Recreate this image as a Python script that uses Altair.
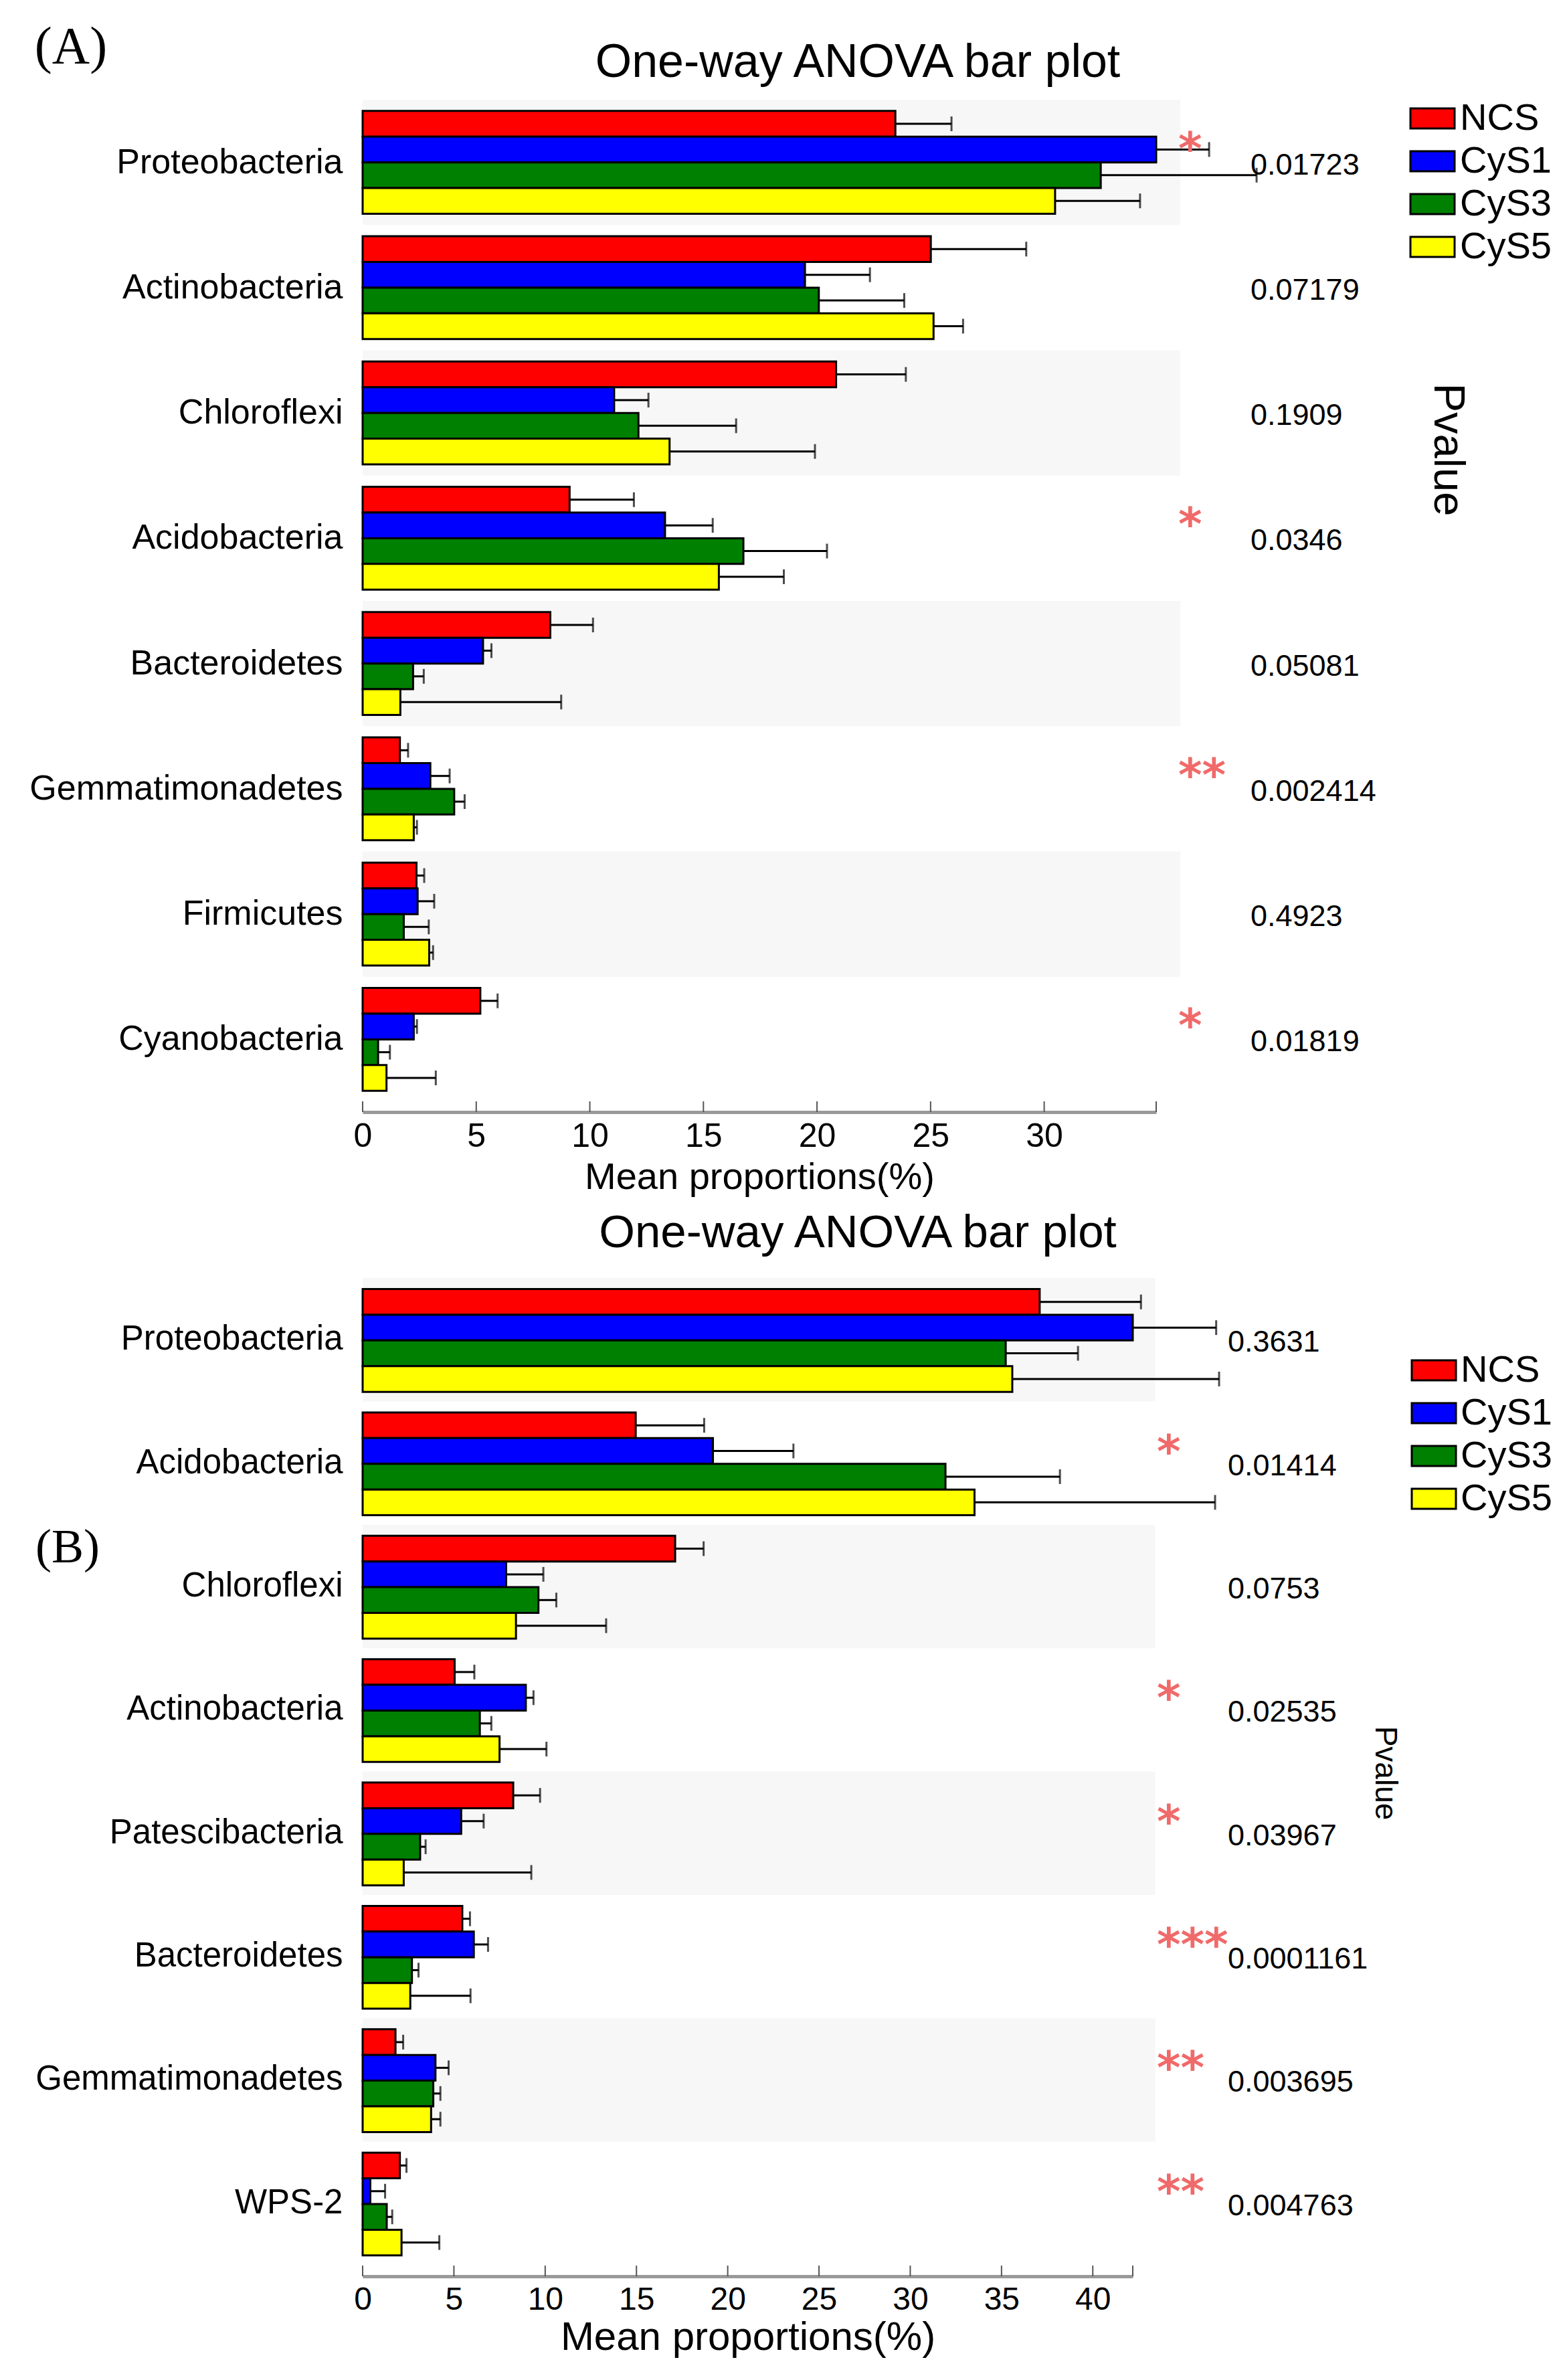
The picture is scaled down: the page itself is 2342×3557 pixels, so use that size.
import altair as alt
import pandas as pd

GROUPS = ["NCS", "CyS1", "CyS3", "CyS5"]
COLORS = ["#ff0000", "#0000ff", "#008000", "#ffff00"]

# ---------------- Panel A ----------------
A_PHYLA = ["Proteobacteria", "Actinobacteria", "Chloroflexi", "Acidobacteria",
           "Bacteroidetes", "Gemmatimonadetes", "Firmicutes", "Cyanobacteria"]
A_NCS = [23.45, 25.01, 20.84, 9.11, 8.26, 1.64, 2.37, 5.18]
A_CYS1 = [34.93, 19.47, 11.07, 13.31, 5.30, 2.98, 2.42, 2.25]
A_CYS3 = [32.49, 20.08, 12.14, 16.76, 2.22, 4.03, 1.81, 0.68]
A_CYS5 = [30.48, 25.13, 13.51, 15.68, 1.66, 2.25, 2.93, 1.05]
A_NCS_UP = [25.92, 29.21, 23.91, 11.94, 10.14, 2.00, 2.71, 5.94]
A_CYS1_UP = [37.26, 22.33, 12.58, 15.41, 5.67, 3.83, 3.15, 2.39]
A_CYS3_UP = [39.35, 23.84, 16.44, 20.44, 2.69, 4.49, 2.91, 1.20]
A_CYS5_UP = [34.22, 26.43, 19.91, 18.54, 8.74, 2.39, 3.10, 3.22]
A_PVALUES = ["0.01723", "0.07179", "0.1909", "0.0346", "0.05081", "0.002414", "0.4923", "0.01819"]
A_STARS = ["*", "", "", "*", "", "**", "", "*"]
A_TICKS = [0, 5, 10, 15, 20, 25, 30]
A_XMAX = 34.93
A_BAND_END = 36.0

# ---------------- Panel B ----------------
B_PHYLA = ["Proteobacteria", "Acidobacteria", "Chloroflexi", "Actinobacteria",
           "Patescibacteria", "Bacteroidetes", "Gemmatimonadetes", "WPS-2"]
B_NCS = [37.09, 14.96, 17.12, 5.04, 8.25, 5.46, 1.80, 2.04]
B_CYS1 = [42.19, 19.19, 7.86, 8.94, 5.40, 6.09, 3.99, 0.42]
B_CYS3 = [35.23, 31.93, 9.63, 6.42, 3.15, 2.70, 3.87, 1.32]
B_CYS5 = [35.59, 33.52, 8.40, 7.50, 2.25, 2.61, 3.75, 2.13]
B_NCS_UP = [42.64, 18.71, 18.68, 6.12, 9.72, 5.88, 2.22, 2.40]
B_CYS1_UP = [46.76, 23.60, 9.90, 9.36, 6.63, 6.87, 4.71, 1.23]
B_CYS3_UP = [39.19, 38.20, 10.61, 7.05, 3.45, 3.06, 4.26, 1.62]
B_CYS5_UP = [46.92, 46.70, 13.34, 10.07, 9.24, 5.91, 4.26, 4.20]
B_PVALUES = ["0.3631", "0.01414", "0.0753", "0.02535", "0.03967", "0.0001161", "0.003695", "0.004763"]
B_STARS = ["", "*", "", "*", "*", "***", "**", "**"]
B_TICKS = [0, 5, 10, 15, 20, 25, 30, 35, 40]
B_XMAX = 42.19
B_BAND_END = 43.42

FONT = "Liberation Sans"


def panel(phyla, means, ups, pvals, stars, ticks, xmax, band_end, L):
    W, H = L["w"], L["h"]
    rows = []
    for gi, g in enumerate(GROUPS):
        for pi, p in enumerate(phyla):
            rows.append({"phylum": p, "group": g, "mean": means[gi][pi], "up": ups[gi][pi]})
    df = pd.DataFrame(rows)
    df_bands = pd.DataFrame({"phylum": phyla[0::2]})
    df_p = pd.DataFrame({"phylum": phyla, "p": pvals})
    df_s = pd.DataFrame({"phylum": [p for p, s in zip(phyla, stars) if s],
                         "s": [s for s in stars if s]})
    df_t = pd.DataFrame({"v": ticks + [xmax]})

    xscale = alt.Scale(domain=[0, xmax], nice=False, zero=True)
    xaxis = alt.Axis(values=ticks, title="Mean proportions(%)", grid=False,
                     titleFont=FONT, titleFontSize=L["xt_fs"], titleFontWeight="normal",
                     titleColor="black", titleBaseline="alphabetic", titleY=L["xt_y"],
                     titleX=W / 2, labelFont=FONT, labelFontSize=L["xl_fs"],
                     labelBaseline="alphabetic", labelPadding=L["xl_pad"], labelColor="black",
                     labelFlush=False, labelOverlap=False, domainColor="#999999",
                     domainWidth=5, ticks=False, tickSize=0, offset=L["off"])
    yscale = alt.Scale(domain=phyla, paddingInner=0.18, paddingOuter=0.09)
    yaxis = alt.Axis(title=None, domain=False, ticks=False, grid=False, labelFont=FONT,
                     labelFontSize=L["yl_fs"], labelPadding=30, labelLimit=2000,
                     labelColor="black")
    Y = alt.Y("phylum:N", scale=yscale, axis=yaxis)
    YO = alt.YOffset("group:N", scale=alt.Scale(domain=GROUPS, paddingInner=0, paddingOuter=0))

    def X(f):
        return alt.X(f, type="quantitative", scale=xscale, axis=xaxis)

    step = H / len(phyla)
    bands = alt.Chart(df_bands).mark_bar(color="#f7f7f7", height=step).encode(
        x=alt.XDatum(0, scale=xscale, axis=xaxis), x2=alt.X2Datum(band_end), y=Y)

    bars = alt.Chart(df).mark_bar(stroke="black", strokeWidth=3).encode(
        x=X("mean"), y=Y, yOffset=YO,
        color=alt.Color("group:N", scale=alt.Scale(domain=GROUPS, range=COLORS),
                        legend=alt.Legend(title=None, orient="none", legendX=L["lx"],
                                          legendY=L["ly"], padding=0,
                                          symbolType="M-2.2,-1H2.2V1H-2.2Z",
                                          symbolSize=900, symbolStrokeColor="black",
                                          symbolStrokeWidth=3, labelFont=FONT,
                                          labelFontSize=56, labelColor="black",
                                          labelLimit=1000, rowPadding=8,
                                          labelOffset=L["lo"])))

    err = alt.Chart(df).mark_rule(color="black", strokeWidth=3).encode(
        x=X("mean"), x2="up:Q", y=Y, yOffset=YO)
    caps = alt.Chart(df).mark_tick(color="black", thickness=3, size=22).encode(
        x=X("up"), y=Y, yOffset=YO)

    tick_rules = alt.Chart(df_t).mark_rule(color="#555555", strokeWidth=2).encode(
        x=X("v"), y=alt.value(H + L["off"] - 16), y2=alt.value(H + L["off"]))

    ptext = alt.Chart(df_p).mark_text(align="left", baseline="alphabetic", font=FONT,
                                      fontSize=45, color="black", dy=18).encode(
        x=alt.value(L["px"]), y=Y, text="p:N")
    stext = alt.Chart(df_s).mark_text(align="left", baseline="alphabetic", font="DejaVu Sans",
                                      fontSize=68, fontWeight="bold", color="#f06a6a",
                                      dy=L["sdy"]).encode(
        x=alt.value(L["sx"]), y=Y, text="s:N")

    title = alt.Chart(pd.DataFrame({"t": ["One-way ANOVA bar plot"]})).mark_text(
        align="center", baseline="alphabetic", font=FONT, fontSize=L["t_fs"], color="black").encode(
        x=alt.value(L["tx"]), y=alt.value(L["ty"]), text="t:N")
    tag = alt.Chart(pd.DataFrame({"t": [L["tag"]]})).mark_text(
        align="center", baseline="alphabetic", font="Liberation Serif", fontSize=L["tag_fs"],
        color="black").encode(x=alt.value(L["tagx"]), y=alt.value(L["tagy"]), text="t:N")
    pv = alt.Chart(pd.DataFrame({"t": ["Pvalue"]})).mark_text(
        align="center", baseline="middle", font=FONT, fontSize=L["pv_fs"], angle=90,
        color="black").encode(x=alt.value(L["pvx"]), y=alt.value(L["pvy"]), text="t:N")

    return alt.layer(bands, bars, err, caps, tick_rules, ptext, stext, title, tag, pv).properties(
        width=W, height=H)


LA = dict(w=1186, h=1498, off=15, xt_fs=56, xt_y=114, xl_fs=50, xl_pad=51, yl_fs=52,
          lx=1571, ly=0, lo=13, px=1327, sx=1219, sdy=3, t_fs=70, tx=740, ty=-34,
          tag="(A)", tag_fs=78, tagx=-436, tagy=-55, pv_fs=65, pvx=1622, pvy=523)
LB = dict(w=1151, h=1475, off=17, xt_fs=60, xt_y=109, xl_fs=48, xl_pad=49, yl_fs=51,
          lx=1573, ly=110, lo=12, px=1293, sx=1187, sdy=6, t_fs=69, tx=740, ty=-46,
          tag="(B)", tag_fs=72, tagx=-441, tagy=425, pv_fs=46, pvx=1528, pvy=740)

pa = panel(A_PHYLA, [A_NCS, A_CYS1, A_CYS3, A_CYS5],
           [A_NCS_UP, A_CYS1_UP, A_CYS3_UP, A_CYS5_UP],
           A_PVALUES, A_STARS, A_TICKS, A_XMAX, A_BAND_END, LA)
pb = panel(B_PHYLA, [B_NCS, B_CYS1, B_CYS3, B_CYS5],
           [B_NCS_UP, B_CYS1_UP, B_CYS3_UP, B_CYS5_UP],
           B_PVALUES, B_STARS, B_TICKS, B_XMAX, B_BAND_END, LB)

chart = alt.vconcat(pa, pb, spacing=263, bounds="flush").resolve_scale(
    color="independent").properties(
    padding={"left": 35, "top": 24, "right": 10, "bottom": 10}
).configure(font=FONT).configure_view(stroke=None)

chart.save("out.html", embed_options={"renderer": "svg", "actions": False})
